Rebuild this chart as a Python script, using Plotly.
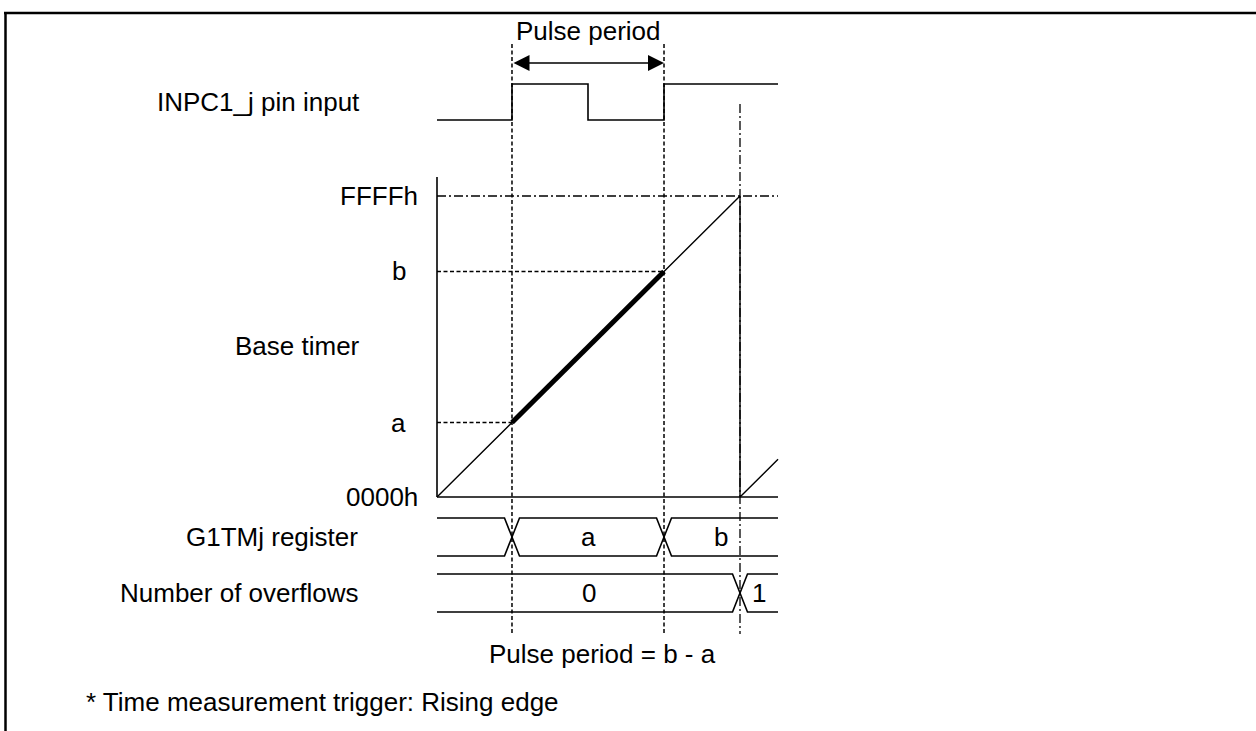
import plotly.graph_objects as go

# ---------------- data (time axis in base-timer counts) ----------------
COUNTER_MAX = 0xFFFF
capture_a = 16220          # counter value at first rising edge (a)
capture_b = 49100          # counter value at second rising edge (b)
pulse_fall = 32660         # falling edge of INPC1_j
overflow_t = 65535         # overflow instant
t_end = 73760

pulse_t = [0, capture_a, pulse_fall, capture_b, t_end]
pulse_level = [0, 1, 0, 1, 1]

timer_t = [0, overflow_t, overflow_t, t_end]
timer_v = [0, COUNTER_MAX, 0, t_end - overflow_t]

reg_transitions = [capture_a, capture_b]
reg_values = ["", "a", "b"]
ovf_transitions = [overflow_t]
ovf_values = ["0", "1"]

row_labels = ["INPC1_j pin input", "Base timer", "G1TMj register", "Number of overflows"]
timer_tick_labels = ["FFFFh", "b", "a", "0000h"]
timer_tick_values = [COUNTER_MAX, capture_b, capture_a, 0]

# ---------------- layout geometry (pixels) ----------------
W, H = 1256, 731
FONT = "Liberation Sans, Arial, sans-serif"
FS = 26
X0 = 437                 # pixel of t = 0
K = 65535 / 303          # counts per pixel
TIMER_ZERO_PX, TIMER_MAX_PX = 497, 196
PULSE_LOW_PX, PULSE_STEP = 120, 36
REG_C, OVF_C, BUS_H = 537, 593, 19
DELTA = 7.5 * K          # half width of bus crossing

def tx(px):
    return (px - X0) * K

def P(x, y):
    return x / W, 1 - y / H

vs = 65535 / (TIMER_ZERO_PX - TIMER_MAX_PX)
y2_range = [(TIMER_ZERO_PX - H) * vs, TIMER_ZERO_PX * vs]
y3_range = [(PULSE_LOW_PX - H) / PULSE_STEP, PULSE_LOW_PX / PULSE_STEP]

fig = go.Figure()
LINE = dict(color="black", width=1.6)

# pulse input
fig.add_trace(go.Scatter(x=pulse_t, y=pulse_level, mode="lines", line=dict(LINE, shape="hv"),
                         yaxis="y3", hoverinfo="skip"))
# base timer ramp
fig.add_trace(go.Scatter(x=timer_t, y=timer_v, mode="lines", line=dict(color="black", width=1.4),
                         yaxis="y2", hoverinfo="skip"))
# highlighted pulse period segment
fig.add_trace(go.Scatter(x=[capture_a, capture_b], y=[capture_a, capture_b], mode="lines",
                         line=dict(color="black", width=5), yaxis="y2", hoverinfo="skip"))

# bus lanes
def bus(transitions, values, center):
    top, bot = center - BUS_H, center + BUS_H
    for start_level in (top, bot):
        xs, ys = [0], [start_level]
        lvl = start_level
        for tr in transitions:
            other = bot if lvl == top else top
            xs += [tr - DELTA, tr + DELTA]
            ys += [lvl, other]
            lvl = other
        xs.append(t_end)
        ys.append(lvl)
        fig.add_trace(go.Scatter(x=xs, y=ys, mode="lines", line=LINE, yaxis="y", hoverinfo="skip"))
    bounds = [0] + list(transitions) + [t_end]
    for i, v in enumerate(values):
        if v:
            fig.add_annotation(x=(bounds[i] + bounds[i + 1]) / 2, y=center, xref="x", yref="y",
                               text=v, showarrow=False, font=dict(size=FS, family=FONT, color="black"))

bus(reg_transitions, reg_values, REG_C)
bus(ovf_transitions, ovf_values, OVF_C)

shapes = []
# frame
shapes.append(dict(type="line", xref="paper", yref="paper", x0=4 / W, x1=1, y0=1 - 13 / H, y1=1 - 13 / H,
                   line=dict(color="black", width=2.5)))
shapes.append(dict(type="line", xref="paper", yref="paper", x0=5.5 / W, x1=5.5 / W, y0=1 - 13 / H, y1=0,
                   line=dict(color="black", width=2.5)))
DASH = dict(color="black", width=1.5, dash="4px,2.5px")
DASHDOT = dict(color="black", width=1.3, dash="9px,3px,2px,3px")
# vertical capture guides
for t in reg_transitions:
    shapes.append(dict(type="line", xref="x", yref="paper", x0=t, x1=t, y0=1 - 44 / H, y1=1 - 634 / H, line=DASH))
# overflow guide
shapes.append(dict(type="line", xref="x", yref="paper", x0=overflow_t, x1=overflow_t,
                   y0=1 - 104 / H, y1=1 - 634 / H, line=DASHDOT))
# horizontal guides a, b
for v in (capture_a, capture_b):
    shapes.append(dict(type="line", xref="x", yref="y2", x0=0, x1=v, y0=v, y1=v, line=DASH))
shapes.append(dict(type="line", xref="x", yref="y2", x0=0, x1=t_end, y0=COUNTER_MAX, y1=COUNTER_MAX, line=DASHDOT))
# timer axes
shapes.append(dict(type="line", xref="x", yref="y2", x0=0, x1=0, y0=0, y1=COUNTER_MAX + 19 * vs, line=LINE))
shapes.append(dict(type="line", xref="x", yref="y2", x0=0, x1=t_end, y0=0, y1=0, line=LINE))

fig.update_layout(shapes=shapes)

TXT = dict(size=FS, family=FONT, color="black")
# row labels
row_pos = [(362, 102), (362, 346), (360, REG_C), (360, OVF_C)]
for lab, (x, y) in zip(row_labels, row_pos):
    px_, py_ = P(x, y)
    fig.add_annotation(x=px_, y=py_, xref="paper", yref="paper", text=lab, showarrow=False,
                       xanchor="right", yanchor="middle", font=TXT)
# timer value labels
tick_right = [420, 408, 408, 420]
for lab, v, xr in zip(timer_tick_labels, timer_tick_values, tick_right):
    fig.add_annotation(x=xr / W, y=v, xref="paper", yref="y2", text=lab, showarrow=False,
                       xanchor="right", yanchor="middle", font=TXT)
# pulse period arrow and labels
arrow_level = (PULSE_LOW_PX - 63) / PULSE_STEP
fig.add_annotation(x=capture_b, y=arrow_level, ax=capture_a, ay=arrow_level, xref="x", yref="y3",
                   axref="x", ayref="y3", text="", showarrow=True, arrowhead=2, arrowside="end+start",
                   arrowsize=2, arrowwidth=1.6, arrowcolor="black", standoff=0, startstandoff=0)
fig.add_annotation(x=(capture_a + capture_b) / 2, y=1 - 31 / H, xref="x", yref="paper", text="Pulse period",
                   showarrow=False, yanchor="middle", font=TXT)
fig.add_annotation(x=(capture_a + capture_b) / 2 + 14 * K, y=1 - 654 / H, xref="x", yref="paper",
                   text="Pulse period = b - a", showarrow=False, yanchor="middle", font=TXT)
fig.add_annotation(x=84 / W, y=1 - 702 / H, xref="paper", yref="paper",
                   text="* Time measurement trigger: Rising edge", showarrow=False,
                   xanchor="left", yanchor="middle", font=TXT)

ax_common = dict(visible=False, showgrid=False, zeroline=False, fixedrange=True)
fig.update_layout(
    width=W, height=H, margin=dict(l=0, r=0, t=0, b=0),
    paper_bgcolor="white", plot_bgcolor="white", showlegend=False, hovermode=False,
    xaxis=dict(ax_common, range=[tx(0), tx(W)]),
    yaxis=dict(ax_common, range=[H, 0]),
    yaxis2=dict(ax_common, range=y2_range, overlaying="y"),
    yaxis3=dict(ax_common, range=y3_range, overlaying="y"),
)

fig.write_html("out.html", config={"displayModeBar": False, "staticPlot": True},
               post_script="document.body.style.margin='0';document.body.style.overflow='hidden';")
